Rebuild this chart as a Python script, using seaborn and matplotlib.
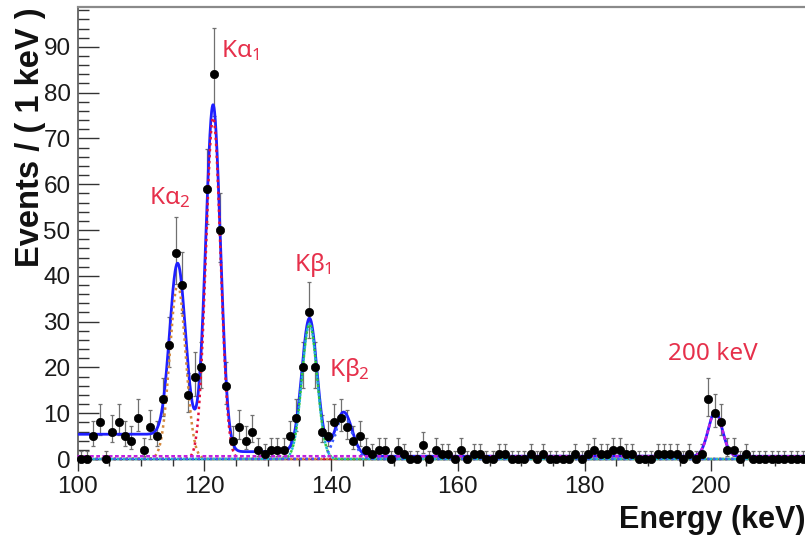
import math
import numpy as np
import pandas as pd
import matplotlib
matplotlib.use("Agg")
import matplotlib.pyplot as plt
from matplotlib.ticker import MultipleLocator
import seaborn as sns

# ---- binned spectrum: 1 keV bins, 100 - 215 keV ----
bin_edges = np.arange(100.0, 216.0, 1.0)
counts = [
    0, 0, 5, 8, 0, 6, 8, 5, 4, 9,          # 100-109
    2, 7, 5, 13, 25, 45, 38, 14, 18, 20,   # 110-119
    59, 84, 50, 16, 4, 7, 4, 6, 2, 1,      # 120-129
    2, 2, 2, 5, 9, 20, 32, 20, 6, 5,       # 130-139
    8, 9, 7, 4, 5, 2, 1, 2, 2, 0,          # 140-149
    2, 1, 0, 0, 3, 0, 2, 1, 1, 0,          # 150-159
    2, 0, 1, 1, 0, 0, 1, 1, 0, 0,          # 160-169
    0, 1, 0, 1, 0, 0, 0, 0, 1, 0,          # 170-179
    1, 2, 1, 1, 2, 2, 1, 1, 0, 0,          # 180-189
    0, 1, 1, 1, 1, 0, 1, 0, 1, 13,         # 190-199
    10, 8, 2, 2, 0, 1, 0, 0, 0, 0,         # 200-209
    0, 0, 0, 0, 0,                         # 210-214
]

# ---- fitted line model: gaussian peaks + low-side steps + flat background ----
peak_labels = ["Kα2", "Kα1", "Kβ1", "Kβ2", "200 keV"]
peak_mean = [115.8, 121.4, 136.6, 142.0, 200.6]
peak_sigma = [1.25, 1.15, 1.2, 1.3, 1.1]
peak_height = [38.0, 74.5, 29.5, 9.5, 9.7]
step_height = [1.3, 2.5, 0.7, 0.3, 0.0]
flat_bkg = 0.6

# ---- style ----
sns.set_theme(style="ticks")
plt.rcParams["font.family"] = ["Liberation Sans", "DejaVu Sans"]
plt.rcParams["mathtext.fontset"] = "custom"
plt.rcParams["mathtext.rm"] = "Noto Sans"
plt.rcParams["mathtext.it"] = "Noto Sans"
plt.rcParams["mathtext.bf"] = "Noto Sans:bold"

LABEL_RED = "#e6304b"


def poisson_cdf(n, mu):
    if mu <= 0:
        return 1.0
    return sum(math.exp(-mu + k * math.log(mu) - math.lgamma(k + 1)) for k in range(n + 1))


def solve(f, target, lo, hi):
    # f is decreasing in mu; find f(mu) == target
    for _ in range(80):
        mid = 0.5 * (lo + hi)
        if f(mid) > target:
            lo = mid
        else:
            hi = mid
    return 0.5 * (lo + hi)


def poisson_interval(n, cl=0.6827):
    a = 0.5 * (1.0 - cl)
    top = n + 20 + 10 * math.sqrt(n + 1)
    up = solve(lambda m: poisson_cdf(n, m), a, 0.0, top)
    low = 0.0 if n == 0 else solve(lambda m: poisson_cdf(n - 1, m), 1.0 - a, 0.0, top)
    return n - low, up - n


centers = 0.5 * (bin_edges[:-1] + bin_edges[1:])
n_arr = np.array(counts)
errs = np.array([poisson_interval(int(n)) for n in n_arr]).T

data = pd.DataFrame({"energy": centers, "events": n_arr,
                     "err_lo": errs[0], "err_hi": errs[1]})

grid = np.linspace(100.0, 216.0, 3000)


def gauss(i):
    return peak_height[i] * np.exp(-0.5 * ((grid - peak_mean[i]) / peak_sigma[i]) ** 2)


def step(i):
    z = (grid - peak_mean[i]) / (math.sqrt(2) * peak_sigma[i])
    return step_height[i] * 0.5 * np.array([math.erfc(v) for v in z])


background = flat_bkg + sum(step(i) for i in range(len(peak_mean)))
total = background + sum(gauss(i) for i in range(len(peak_mean)))

# ---- figure ----
W, H = 805, 537
fig = plt.figure(figsize=(W / 100, H / 100), dpi=100)
fig.patch.set_facecolor("white")
ax = fig.add_axes([77.5 / W, 1 - 459 / H, 1 - 77.5 / W, (459 - 7) / H])
ax.set_facecolor("white")

# error bars
ax.errorbar(data["energy"], data["events"], yerr=[data["err_lo"], data["err_hi"]],
            fmt="none", ecolor="#707070", elinewidth=0.9, capsize=1.6, capthick=0.9,
            zorder=2)

# total fit
sns.lineplot(x=grid, y=total, ax=ax, color="#1f1fff", lw=2.0, sort=False,
             estimator=None, zorder=4)

# individual line components (dotted)
dot = (0, (1, 1.4))
comp_colors = ["#d4883c", "#e3123c", "#2ecc40", "#3a5cff"]
comp_lines = []
for i, col in enumerate(comp_colors):
    sns.lineplot(x=grid, y=gauss(i), ax=ax, color=col, lw=1.8, linestyle=dot,
                 sort=False, estimator=None, zorder=5)
    comp_lines.append(ax.lines[-1])
# second trace on the Kβ1 line
sns.lineplot(x=grid, y=gauss(2), ax=ax, color="#20b8d0", lw=1.8,
             linestyle=(1.2, (1, 1.4)), sort=False, estimator=None, zorder=5)
comp_lines.append(ax.lines[-1])
# 200 keV line on flat background
sns.lineplot(x=grid, y=flat_bkg + gauss(4), ax=ax, color="#c020e0", lw=1.8,
             linestyle=(0, (1.5, 1.0)), sort=False, estimator=None, zorder=5)
comp_lines.append(ax.lines[-1])
for ln in comp_lines:
    ln.set_clip_on(False)

# data points
sns.scatterplot(data=data, x="energy", y="events", ax=ax, color="black", s=36,
                edgecolor="black", linewidth=0.5, zorder=6, clip_on=False)

ax.set_xlim(100, 214.75)
ax.set_ylim(0, 98.7)
ax.xaxis.set_major_locator(MultipleLocator(20))
ax.xaxis.set_minor_locator(MultipleLocator(5))
ax.yaxis.set_major_locator(MultipleLocator(10))
ax.yaxis.set_minor_locator(MultipleLocator(2))
ax.tick_params(axis="x", which="major", direction="out", length=8.5, width=1.0,
               color="#333333", labelsize=17.5, pad=4, labelcolor="#1a1a1a")
ax.tick_params(axis="x", which="minor", direction="out", length=5, width=1.0,
               color="#333333")
ax.tick_params(axis="y", which="major", direction="in", length=15, width=1.0,
               color="#333333", labelsize=17.5, pad=5, labelcolor="#1a1a1a")
ax.tick_params(axis="y", which="minor", direction="in", length=8, width=1.0,
               color="#333333")
ax.set_xlabel("")
ax.set_ylabel("")

ax.spines["right"].set_visible(False)
ax.spines["top"].set_color("#8a8a8a")
ax.spines["top"].set_linewidth(1.6)
ax.spines["left"].set_color("#555555")
ax.spines["left"].set_linewidth(1.2)
ax.spines["bottom"].set_color("#222222")
ax.spines["bottom"].set_linewidth(1.0)

# peak labels
label_pos = {
    "Kα1": (122.6, 87.8, r"$\mathrm{K}\alpha_1$"),
    "Kα2": (111.2, 55.7, r"$\mathrm{K}\alpha_2$"),
    "Kβ1": (134.1, 41.0, r"$\mathrm{K}\beta_1$"),
    "Kβ2": (139.6, 18.1, r"$\mathrm{K}\beta_2$"),
    "200 keV": (193.1, 21.6, "200 keV"),
}
for name in peak_labels:
    x, y, txt = label_pos[name]
    ax.text(x, y, txt, color=LABEL_RED, fontsize=17.5, ha="left", va="baseline",
            family=["Noto Sans", "DejaVu Sans"], zorder=7)

# axis titles
fig.text(30 / W, 1 - 267 / H, "Events / ( 1 keV )", rotation=90, ha="center",
         va="bottom", fontsize=23.5, fontweight="bold", color="#111111")
fig.text(1.0, 1 - 528 / H, "Energy (keV)", ha="right", va="baseline",
         fontsize=22, fontweight="bold", color="#111111")

fig.savefig("out.png", dpi=100, facecolor="white")
